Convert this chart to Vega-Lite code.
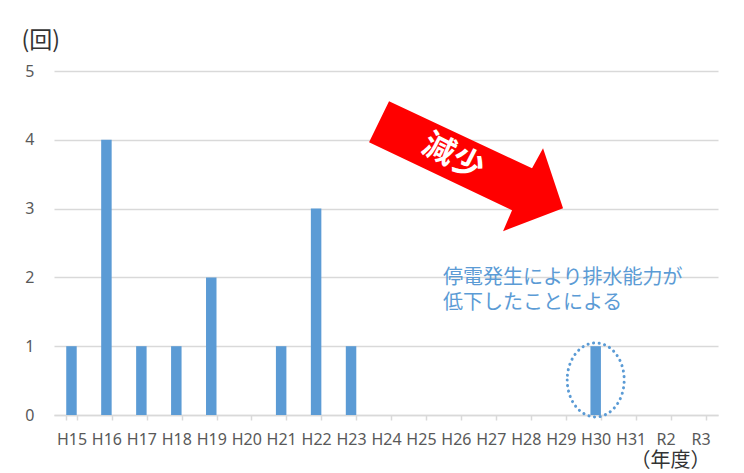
{
  "$schema": "https://vega.github.io/schema/vega-lite/v6.json",
  "width": 664,
  "height": 344,
  "autosize": "none",
  "padding": {"left": 54, "top": 71, "right": 26, "bottom": 58},
  "background": "white",
  "config": {"view": {"stroke": null}},
  "datasets": {
    "bars": [
      {"year": "H15", "v": 1}, {"year": "H16", "v": 4}, {"year": "H17", "v": 1},
      {"year": "H18", "v": 1}, {"year": "H19", "v": 2}, {"year": "H20", "v": 0},
      {"year": "H21", "v": 1}, {"year": "H22", "v": 3}, {"year": "H23", "v": 1},
      {"year": "H24", "v": 0}, {"year": "H25", "v": 0}, {"year": "H26", "v": 0},
      {"year": "H27", "v": 0}, {"year": "H28", "v": 0}, {"year": "H29", "v": 0},
      {"year": "H30", "v": 1}, {"year": "H31", "v": 0}, {"year": "R2", "v": 0},
      {"year": "R3", "v": 0}
    ],
    "ellipse": [{"year": "H30", "v": 0.51}],
    "arrow": [{"year": "H27", "v": 3.63}],
    "arrowText": [{"year": "H26", "v": 3.75, "text": "減少"}],
    "note": [
      {"year": "H26", "v": 1.99, "text": "停電発生により排水能力が"},
      {"year": "H26", "v": 1.63, "text": "低下したことによる"}
    ]
  },
  "layer": [
    {
      "data": {"name": "bars"},
      "mark": {"type": "bar", "color": "#5b9bd5"},
      "encoding": {
        "x": {
          "field": "year", "type": "nominal", "sort": null,
          "scale": {
            "domain": ["H15","H16","H17","H18","H19","H20","H21","H22","H23","H24","H25","H26","H27","H28","H29","H30","H31","R2","R3"],
            "paddingInner": 0.7, "paddingOuter": 0.35
          },
          "axis": {
            "title": "（年度）", "labelAngle": 0, "labelFont": "Noto Sans", "labelFontSize": 16,
            "labelColor": "#595959", "tickBand": "extent", "tickSize": 5, "tickColor": "#d9d9d9",
            "tickWidth": 1.5, "domainColor": "#d9d9d9", "domainWidth": 1.5, "labelPadding": 11,
            "grid": false,
            "titleFont": "Noto Sans CJK JP", "titleFontSize": 20, "titleFontWeight": "normal",
            "titleColor": "#333333", "titleX": 656, "titleY": 45, "titleAlign": "right",
            "titleBaseline": "middle", "titleAnchor": "end"
          }
        },
        "y": {
          "field": "v", "type": "quantitative",
          "scale": {"domain": [0, 5], "nice": false},
          "axis": {
            "title": "(回)", "values": [0, 1, 2, 3, 4, 5], "format": "d", "labelFont": "Noto Sans", "labelFontSize": 16,
            "labelColor": "#595959", "labelPadding": 20, "ticks": false, "domain": false,
            "gridColor": "#d9d9d9", "gridWidth": 1.5,
            "titleAngle": 0, "titleX": -33, "titleY": -31, "titleAlign": "left", "titleBaseline": "middle",
            "titleFont": "Noto Sans CJK JP", "titleFontSize": 23, "titleFontWeight": "normal", "titleColor": "#333333"
          }
        }
      }
    },
    {
      "data": {"name": "ellipse"},
      "mark": {
        "type": "point",
        "shape": "M -28.5 0 A 28.5 37 0 1 0 28.5 0 A 28.5 37 0 1 0 -28.5 0 Z",
        "size": 4, "filled": false, "stroke": "#5b9bd5", "strokeWidth": 3,
        "strokeDash": [0.1, 5.5], "strokeCap": "round", "opacity": 1
      },
      "encoding": {
        "x": {"field": "year", "type": "nominal", "sort": null},
        "y": {"field": "v", "type": "quantitative"}
      }
    },
    {
      "data": {"name": "arrow"},
      "mark": {
        "type": "point",
        "shape": "M -101.8 -64 L 41.2 3 L 52.2 -17 L 72.2 43 L 12.2 66 L 21.2 45 L -121.8 -23 Z",
        "size": 4, "filled": true, "fill": "#ff0000", "strokeWidth": 0, "opacity": 1
      },
      "encoding": {
        "x": {"field": "year", "type": "nominal", "sort": null},
        "y": {"field": "v", "type": "quantitative"}
      }
    },
    {
      "data": {"name": "arrowText"},
      "mark": {
        "type": "text", "angle": 27, "font": "Noto Sans CJK JP", "fontSize": 32,
        "fontWeight": "bold", "color": "#ffffff", "align": "center", "baseline": "middle",
        "dx": -2.6, "dy": 1.3
      },
      "encoding": {
        "x": {"field": "year", "type": "nominal", "sort": null},
        "y": {"field": "v", "type": "quantitative"},
        "text": {"field": "text"}
      }
    },
    {
      "data": {"name": "note"},
      "mark": {
        "type": "text", "font": "Noto Sans CJK JP", "fontSize": 20, "color": "#5b9bd5",
        "align": "left", "baseline": "middle", "dx": -13
      },
      "encoding": {
        "x": {"field": "year", "type": "nominal", "sort": null},
        "y": {"field": "v", "type": "quantitative"},
        "text": {"field": "text"}
      }
    }
  ]
}
